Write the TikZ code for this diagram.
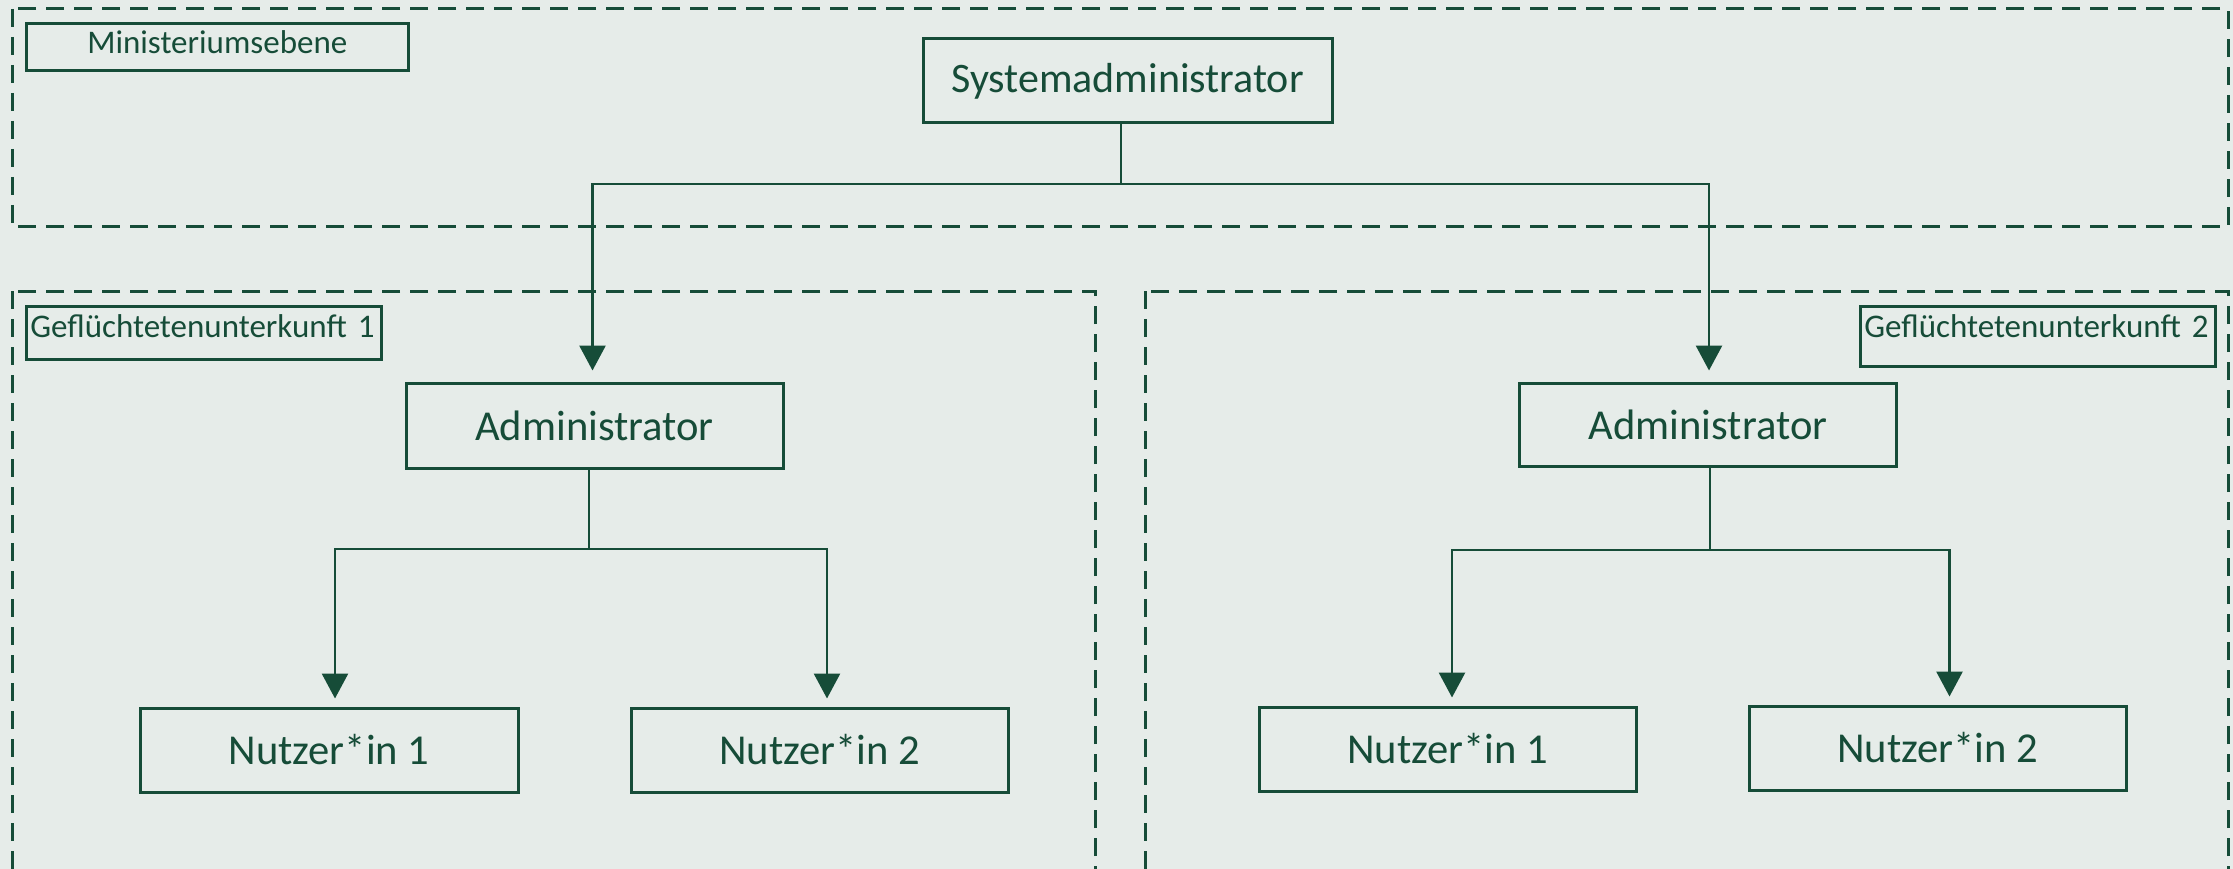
\documentclass[tikz,border=0pt]{standalone}
\usepackage{fontspec}
\setmainfont{Carlito}
\usetikzlibrary{arrows.meta}
\definecolor{ink}{HTML}{164C38}
\definecolor{paper}{HTML}{E6ECE9}
\tikzset{
  zone/.style={draw=ink, line width=3pt, dash pattern=on 18pt off 10pt},
  unit/.style={draw=ink, line width=3pt, text=ink, minimum width=377pt,
    minimum height=84pt, inner sep=0pt, font=\fontsize{42.6}{50}\selectfont},
  tag/.style={draw=ink, line width=2.6pt, text=ink, inner sep=0pt,
    anchor=north west, font=\fontsize{33}{39}\selectfont},
  link/.style={draw=ink, line width=2.8pt},
  arrow/.style={link, -{Triangle[width=26pt,length=25pt]}},
}
\begin{document}
\begin{tikzpicture}[x=1pt,y=-1pt]
  % canvas
  \fill[paper] (0,0) rectangle (2233,869);
  \useasboundingbox (0,0) rectangle (2233,869);

  % dashed level frames
  \begin{scope}
    \clip (0,0) rectangle (2233,869);
    \draw[zone] (12,9) rectangle (2228,227);
    \draw[zone] (12,291) rectangle (1095,900);
    \draw[zone] (1145,291) rectangle (2228,900);
  \end{scope}

  % frame labels
  \node[tag, minimum width=382pt, text height=30pt, text depth=17pt] (lvl) at (25,22) {Ministeriumsebene};
  \node[tag, text width=347pt, inner xsep=4pt, align=left, text height=31pt, text depth=22pt] (camp1) at (25,305) {Geflüchtetenunterkunft 1};
  \node[tag, text width=347pt, inner xsep=4pt, align=left, text height=31pt, text depth=29pt] (camp2) at (1859,305) {Geflüchtetenunterkunft 2};

  % roles
  \node[unit, minimum width=409pt, font=\fontsize{42}{50}\selectfont] (sys) at (1127.5,81) {Systemadministrator};
  \node[unit, minimum height=85pt] (admL) at (594.5,425.5) {Administrator};
  \node[unit, minimum height=83pt] (admR) at (1708,424.5) {Administrator};
  \node[unit, minimum width=378pt] (n1L) at (329,750) {Nutzer*in 1};
  \node[unit] (n2L) at (819.5,750) {Nutzer*in 2};
  \node[unit] (n1R) at (1447.5,749) {Nutzer*in 1};
  \node[unit] (n2R) at (1937.5,748) {Nutzer*in 2};

  % system admin to camp admins
  \coordinate (j0) at (1121,184);
  \draw[link] (sys.south -| j0) -- (j0);
  \draw[arrow, shorten >=11pt] (j0) -| ([xshift=-2pt]admL.north);
  \draw[arrow, shorten >=11pt] (j0) -| ([xshift=1pt]admR.north);

  % camp 1 admin to users
  \coordinate (j1) at (589,549);
  \draw[link] (admL.south -| j1) -- (j1);
  \draw[arrow, shorten >=8pt] (j1) -| ([xshift=6pt]n1L.north);
  \draw[arrow, shorten >=8pt] (j1) -| ([xshift=7.5pt]n2L.north);

  % camp 2 admin to users
  \coordinate (j2) at (1710,550);
  \draw[link] (admR.south -| j2) -- (j2);
  \draw[arrow, shorten >=8pt] (j2) -| ([xshift=4.5pt]n1R.north);
  \draw[arrow, shorten >=8pt] (j2) -| ([xshift=12pt]n2R.north);
\end{tikzpicture}
\end{document}
